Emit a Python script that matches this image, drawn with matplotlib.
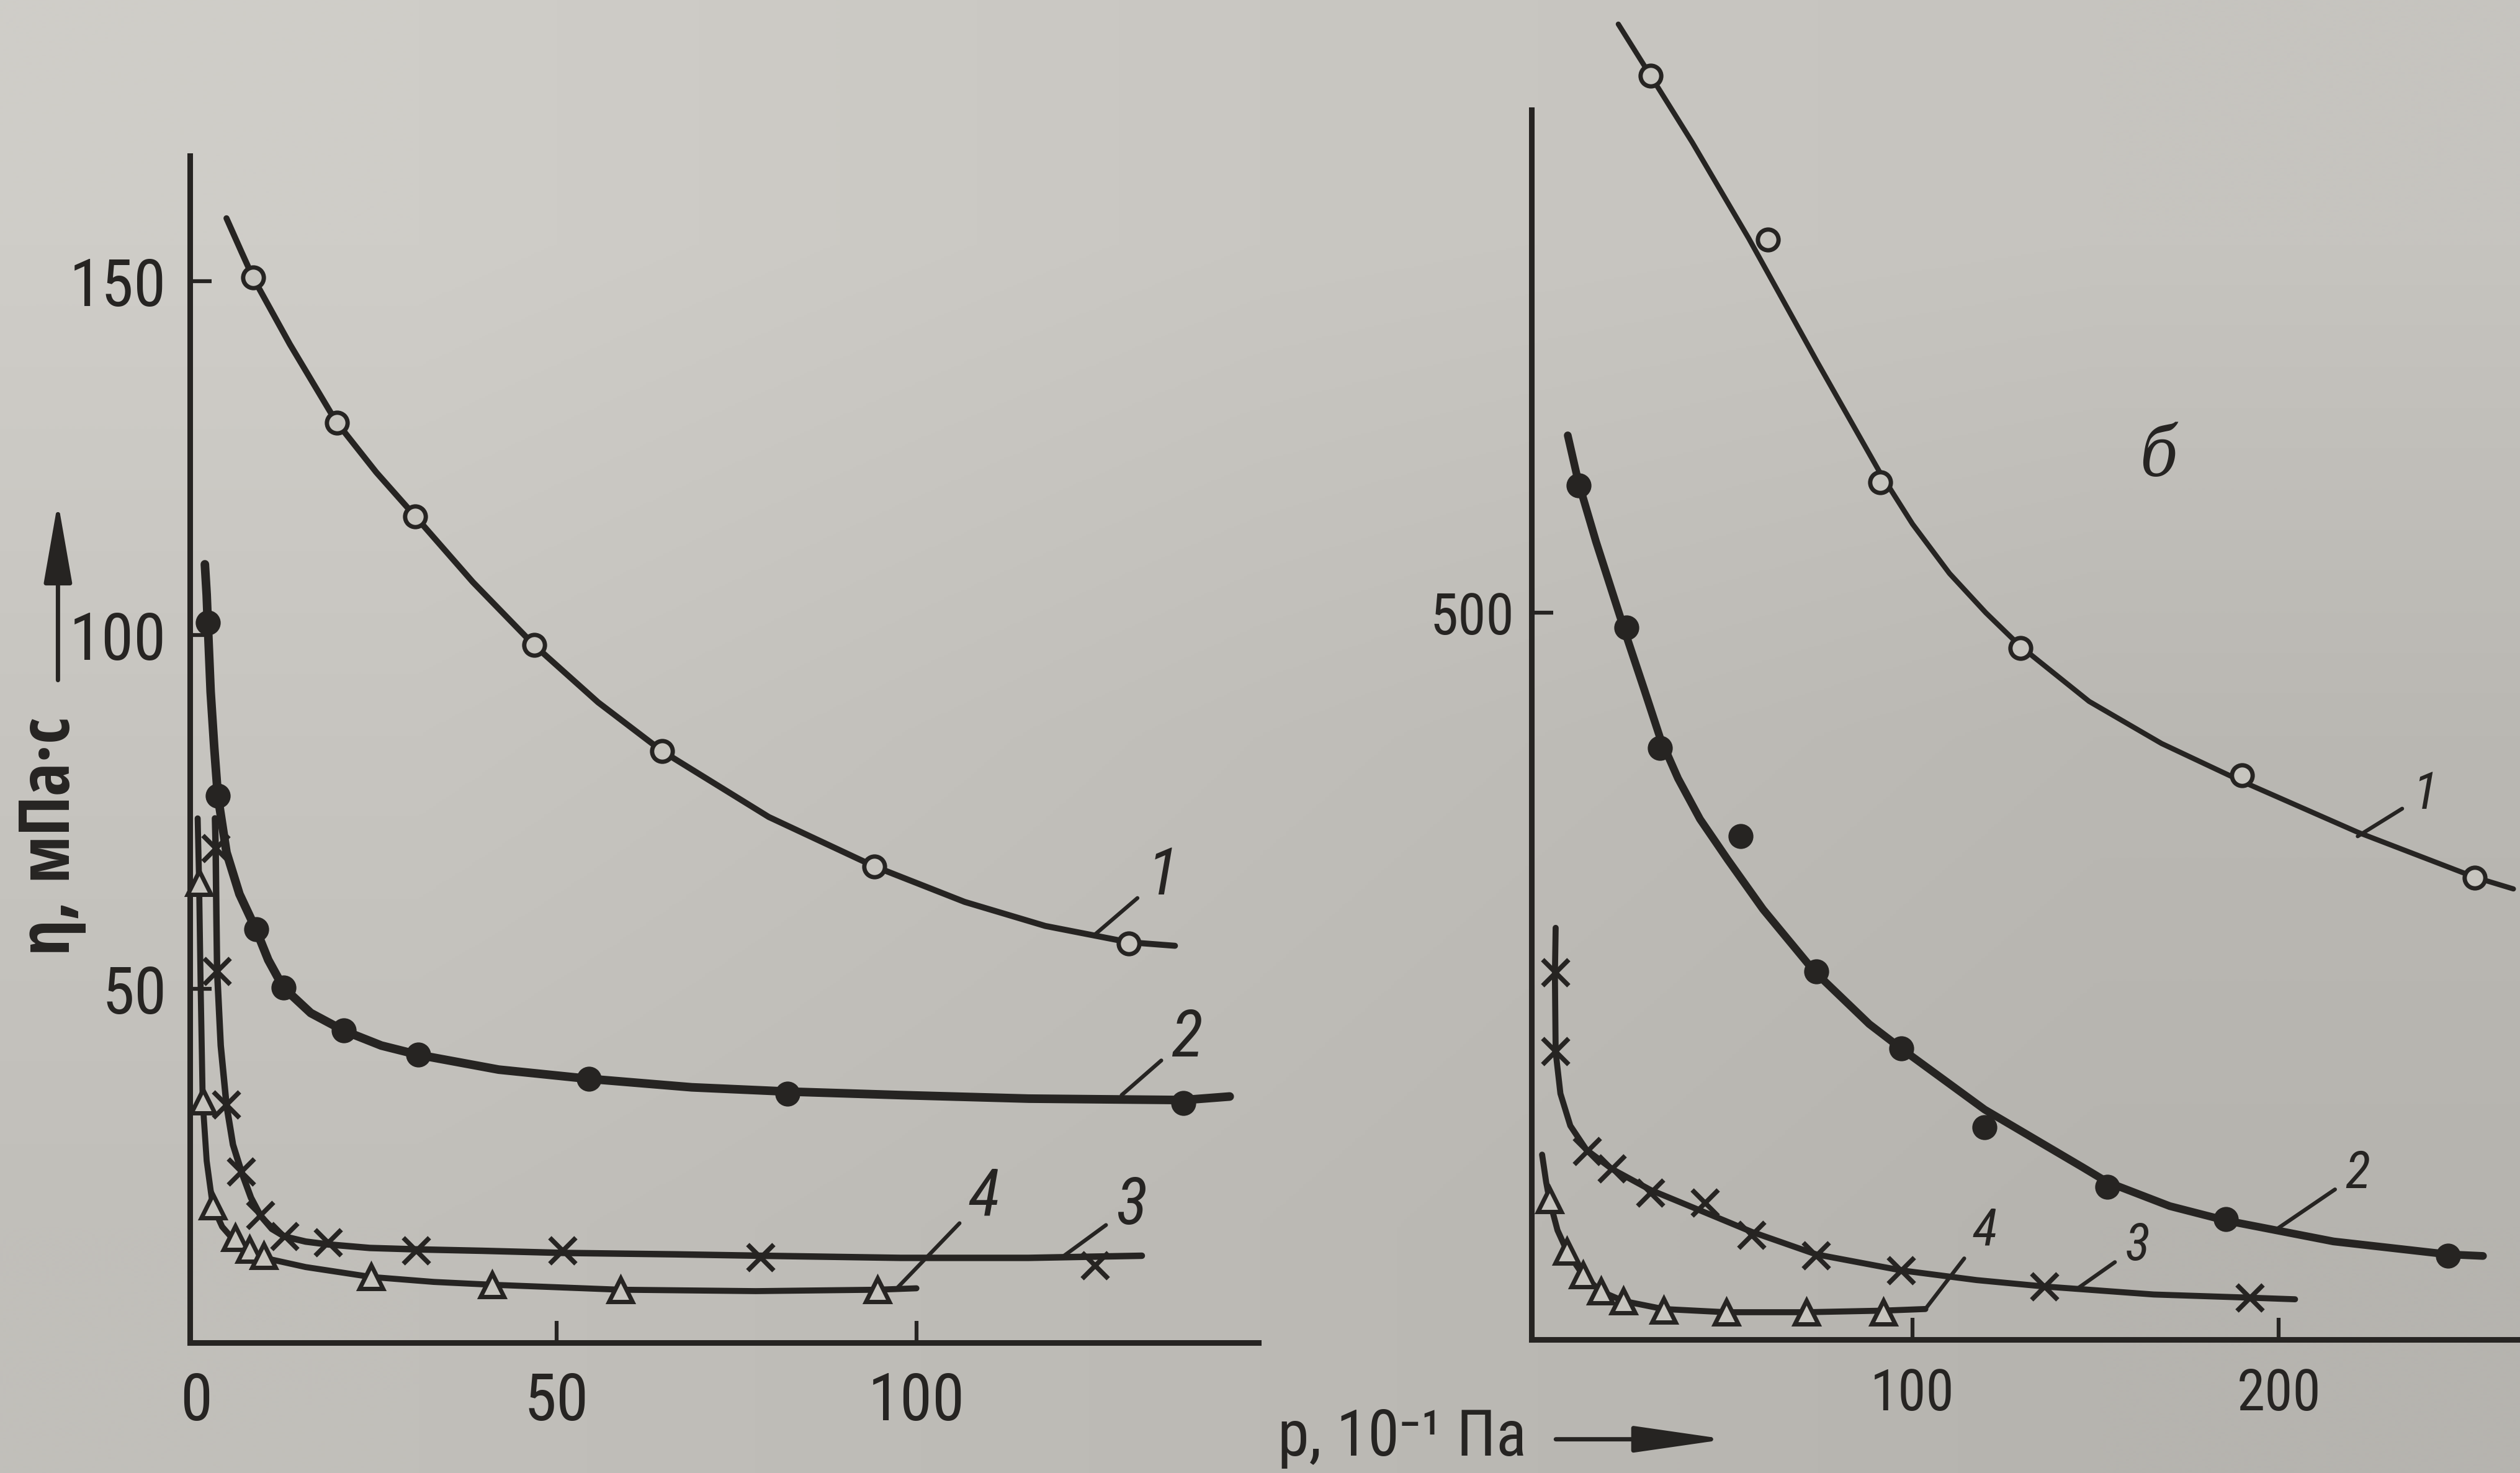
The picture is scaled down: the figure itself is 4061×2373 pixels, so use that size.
import numpy as np
import matplotlib.pyplot as plt
from matplotlib.patches import FancyArrowPatch

# Цвета бумаги и краски
paper = '#c7c5bf'
ink = '#262422'
narrow = ['Roboto Condensed', 'DejaVu Sans']
narrow_bold = ['Open Sans Condensed', 'DejaVu Sans']

# ---------- Панель а (левая) ----------
# кривая 1 (светлые кружки)
a1_x = [7.9, 19.5, 30.4, 46.9, 64.7, 94.2, 129.5]
a1_y = [150.5, 130.0, 116.8, 98.6, 83.6, 67.3, 56.4]
a1_line_x = [4.2, 6.3, 7.9, 13.0, 19.4, 25.0, 30.4, 38.4, 46.9, 55.8, 64.7, 79.5, 94.2, 106.7, 117.9, 129.5, 135.9]
a1_line_y = [158.9, 154.1, 150.5, 141.1, 130.2, 123.0, 116.8, 107.5, 98.6, 90.5, 83.6, 74.3, 67.3, 62.3, 58.9, 56.6, 56.1]

# кривая 2 (тёмные кружки)
a2_x = [1.6, 3.0, 8.3, 12.1, 20.5, 30.8, 54.5, 82.1, 137.1]
a2_y = [101.8, 77.3, 58.4, 50.2, 44.1, 40.7, 37.3, 35.2, 33.9]
a2_line_x = [1.2, 1.45, 1.6, 2.0, 2.5, 3.0, 4.2, 6.0, 8.3, 10.0, 12.1, 15.9, 20.5, 25.7, 30.8, 42.0, 54.5, 68.8, 82.1, 97.8, 115.6, 137.1, 143.5]
a2_line_y = [110.0, 105.7, 101.8, 92.0, 84.1, 77.3, 69.3, 63.4, 58.4, 54.1, 50.2, 46.6, 44.1, 42.0, 40.7, 38.6, 37.3, 36.1, 35.5, 35.0, 34.5, 34.3, 34.8]

# кривая 3 (крестики)
a3_x = [2.7, 2.9, 4.2, 6.3, 8.9, 12.3, 18.3, 30.6, 50.9, 78.4, 124.8]
a3_y = [69.8, 52.5, 33.6, 24.1, 18.0, 15.0, 14.1, 13.0, 13.0, 12.0, 10.9]
a3_line_x = [2.6, 2.7, 2.8, 2.9, 3.4, 4.2, 5.1, 6.3, 7.6, 8.9, 10.5, 12.3, 15.2, 18.3, 24.1, 30.6, 39.7, 50.9, 66.5, 78.4, 97.8, 115.6, 131.3]
a3_line_y = [74.1, 69.8, 60.2, 52.5, 42.0, 33.6, 28.0, 24.1, 20.5, 18.0, 16.1, 15.0, 14.3, 13.9, 13.4, 13.2, 13.0, 12.7, 12.5, 12.3, 12.0, 12.0, 12.3]

# кривая 4 (треугольники)
a4_x = [0.4, 0.9, 2.3, 5.4, 7.4, 9.4, 24.3, 41.1, 58.9, 94.6]
a4_y = [65.0, 34.1, 19.3, 14.8, 13.2, 12.3, 9.3, 8.2, 7.5, 7.5]
a4_line_x = [0.2, 0.4, 0.6, 0.9, 1.45, 2.3, 3.6, 5.4, 7.4, 9.4, 15.2, 24.3, 33.0, 41.1, 58.9, 77.7, 94.6, 100.0]
a4_line_y = [74.1, 65.0, 51.1, 34.1, 25.7, 19.3, 16.4, 14.3, 13.0, 12.0, 10.7, 9.3, 8.6, 8.2, 7.5, 7.3, 7.5, 7.7]

# ---------- Панель б (правая) ----------
b1_x = [28.5, 60.5, 91.2, 129.4, 189.9, 253.5]
b1_y = [869.5, 756.6, 589.6, 475.7, 388.3, 317.5]
b1_line_x = [19.7, 28.5, 39.9, 55.3, 74.1, 84.0, 91.2, 100.0, 110.1, 120.0, 129.4, 148.2, 168.0, 189.9, 221.5, 253.5, 264.0]
b1_line_y = [904.9, 869.5, 823.5, 757.5, 672.0, 628.0, 596.0, 561.0, 527.0, 500.0, 477.0, 439.0, 410.0, 384.0, 349.0, 318.0, 310.0]

b2_x = [8.8, 21.9, 31.1, 53.1, 73.7, 96.9, 119.7, 153.1, 185.5, 246.1]
b2_y = [587.4, 490.0, 407.1, 346.2, 253.3, 200.2, 146.0, 105.1, 83.0, 57.5]
b2_line_x = [5.9, 8.8, 13.6, 21.9, 26.8, 31.1, 36.0, 42.0, 49.6, 59.2, 73.2, 88.2, 96.9, 119.7, 146.5, 153.1, 170.2, 185.5, 214.9, 246.1, 255.7]
b2_line_y = [622.0, 590.0, 549.0, 484.0, 447.0, 414.0, 386.0, 358.0, 330.0, 296.0, 253.3, 217.0, 200.2, 158.2, 118.4, 108.4, 91.8, 81.9, 67.5, 58.6, 57.5]

b3_x = [2.6, 2.6, 11.2, 18.0, 28.5, 43.4, 56.1, 73.7, 96.9, 136.0, 192.1]
b3_y = [252.2, 198.0, 129.4, 117.3, 100.7, 94.0, 71.9, 57.5, 47.6, 36.5, 28.8]
b3_line_x = [2.6, 2.4, 2.6, 3.9, 6.6, 11.0, 18.0, 28.5, 43.4, 56.1, 73.7, 96.9, 117.5, 136.0, 165.8, 192.1, 204.4]
b3_line_y = [283.2, 251.1, 198.0, 169.2, 147.1, 130.5, 117.3, 102.9, 87.4, 74.1, 58.6, 47.6, 40.9, 36.5, 31.0, 28.8, 27.7]

b4_x = [0.9, 5.7, 10.1, 14.9, 21.1, 32.0, 49.1, 71.1, 92.1]
b4_y = [96.2, 60.8, 44.2, 33.2, 26.5, 19.9, 18.8, 18.8, 18.8]
b4_line_x = [-1.1, 0.0, 0.9, 3.1, 5.7, 10.1, 14.9, 21.1, 32.0, 49.1, 71.1, 92.1, 103.5]
b4_line_y = [127.2, 108.4, 96.2, 75.2, 60.8, 44.2, 33.2, 26.5, 21.0, 18.8, 18.8, 19.9, 21.0]


def draw_curve(ax, lx, ly, mx, my, lw, mk):
    ax.plot(lx, ly, color=ink, lw=lw, solid_capstyle='round', solid_joinstyle='round',
            zorder=3, clip_on=False)
    ax.plot(mx, my, ls='none', zorder=4, clip_on=False, **mk)


open_circle = dict(marker='o', ms=24, mfc=paper, mec=ink, mew=5)
full_circle = dict(marker='o', ms=27, mfc=ink, mec=ink, mew=2)
cross = dict(marker='x', ms=30, mec=ink, mew=5.5)
triangle = dict(marker='^', ms=27, mfc=paper, mec=ink, mew=5)

fig = plt.figure(figsize=(40.61, 23.73), dpi=100)

# фон — неравномерно освещённая бумага
bg = fig.add_axes([0, 0, 1, 1], zorder=-10)
bg_colors = np.array([
    [[207, 205, 200], [201, 199, 194], [198, 196, 191]],
    [[199, 197, 192], [192, 190, 185], [186, 184, 179]],
    [[193, 191, 186], [188, 186, 181], [182, 180, 175]],
]) / 255.0
bg.imshow(bg_colors, extent=[0, 1, 0, 1], aspect='auto', interpolation='bilinear')
bg.axis('off')

# ----- левая панель -----
ax1 = fig.add_axes([0.0753, 0.0884, 0.4241, 0.8057])
ax1.set_facecolor('none')
ax1.set_xlim(-0.9, 147.5)
ax1.set_ylim(0, 167.7)

draw_curve(ax1, a1_line_x, a1_line_y, a1_x, a1_y, 7.0, open_circle)
draw_curve(ax1, a2_line_x, a2_line_y, a2_x, a2_y, 10.0, full_circle)
draw_curve(ax1, a3_line_x, a3_line_y, a3_x, a3_y, 7.5, cross)
draw_curve(ax1, a4_line_x, a4_line_y, a4_x, a4_y, 7.0, triangle)

ax1.set_xticks([0, 50, 100])
ax1.set_yticks([50, 100, 150])
ax1.tick_params(axis='both', direction='in', length=25, width=4.5, color=ink,
                labelcolor=ink, labelsize=76)
ax1.tick_params(axis='y', pad=27)
ax1.tick_params(axis='x', pad=33)
ax1.xaxis.get_major_ticks()[0].tick1line.set_visible(False)
for lab in ax1.get_xticklabels() + ax1.get_yticklabels():
    lab.set_family(narrow)

# ----- правая панель -----
ax2 = fig.add_axes([0.6078, 0.0906, 0.3922, 0.9094])
ax2.set_facecolor('none')
ax2.set_xlim(-3.95, 265.8)
ax2.set_ylim(0, 921.5)

draw_curve(ax2, b1_line_x, b1_line_y, b1_x, b1_y, 6.0, open_circle)
draw_curve(ax2, b2_line_x, b2_line_y, b2_x, b2_y, 9.0, full_circle)
draw_curve(ax2, b3_line_x, b3_line_y, b3_x, b3_y, 7.0, cross)
draw_curve(ax2, b4_line_x, b4_line_y, b4_x, b4_y, 7.0, triangle)

ax2.set_xticks([100, 200])
ax2.set_yticks([500])
ax2.tick_params(axis='both', direction='in', length=25, width=4.5, color=ink,
                labelcolor=ink, labelsize=66)
ax2.tick_params(axis='y', pad=20)
ax2.tick_params(axis='x', pad=32)
for lab in ax2.get_xticklabels() + ax2.get_yticklabels():
    lab.set_family(narrow)

for ax in (ax1, ax2):
    ax.spines['top'].set_visible(False)
    ax.spines['right'].set_visible(False)
    ax.spines['left'].set_linewidth(6.5)
    ax.spines['bottom'].set_linewidth(6.5)
    ax.spines['left'].set_color(ink)
    ax.spines['bottom'].set_color(ink)
ax2.spines['left'].set_bounds(0, 846)


# номера кривых с выносками
def curve_label(ax, text, xy, xytext, size):
    ax.annotate(text, xy=xy, xytext=xytext, fontsize=size, style='italic',
                family=narrow, color=ink, ha='center', va='center',
                arrowprops=dict(arrowstyle='-', color=ink, lw=4.5,
                                shrinkA=12, shrinkB=0))


curve_label(ax1, '1', (124.8, 57.7), (134.2, 65.9), 76)
curve_label(ax1, '2', (128.5, 35.0), (137.5, 43.0), 76)
curve_label(ax1, '3', (120.5, 12.3), (129.9, 19.3), 76)
curve_label(ax1, '4', (97.1, 7.5), (109.4, 20.5), 76)

curve_label(ax2, '1', (221.5, 346.2), (239.9, 375.0), 60)
curve_label(ax2, '2', (199.6, 76.3), (221.5, 113.9), 60)
curve_label(ax2, '3', (145.2, 35.4), (161.4, 64.2), 60)
curve_label(ax2, '4', (103.5, 21.0), (119.7, 74.1), 60)

ax2.text(167.1, 607.3, 'б', fontsize=80, style='italic', family=['DejaVu Serif'],
         stretch='condensed', color=ink, ha='center', va='center')

# подписи осей
fig.text(0.0204, 0.432, 'η, мПа·с', rotation=90, ha='center', va='center',
         fontsize=82, family=narrow_bold, color=ink)
fig.patches.append(FancyArrowPatch((0.0230, 0.5371), (0.0230, 0.6605),
                                   transform=fig.transFigure, color=ink, lw=5,
                                   arrowstyle='-|>,head_length=80,head_width=14',
                                   mutation_scale=1))

fig.text(0.507, 0.012, 'p, 10⁻¹ Па', ha='left', va='baseline',
         fontsize=74, family=narrow, color=ink)
fig.patches.append(FancyArrowPatch((0.6167, 0.0229), (0.6856, 0.0229),
                                   transform=fig.transFigure, color=ink, lw=5,
                                   arrowstyle='-|>,head_length=90,head_width=13',
                                   mutation_scale=1))

fig.savefig('out.png', dpi=100, facecolor=paper)
